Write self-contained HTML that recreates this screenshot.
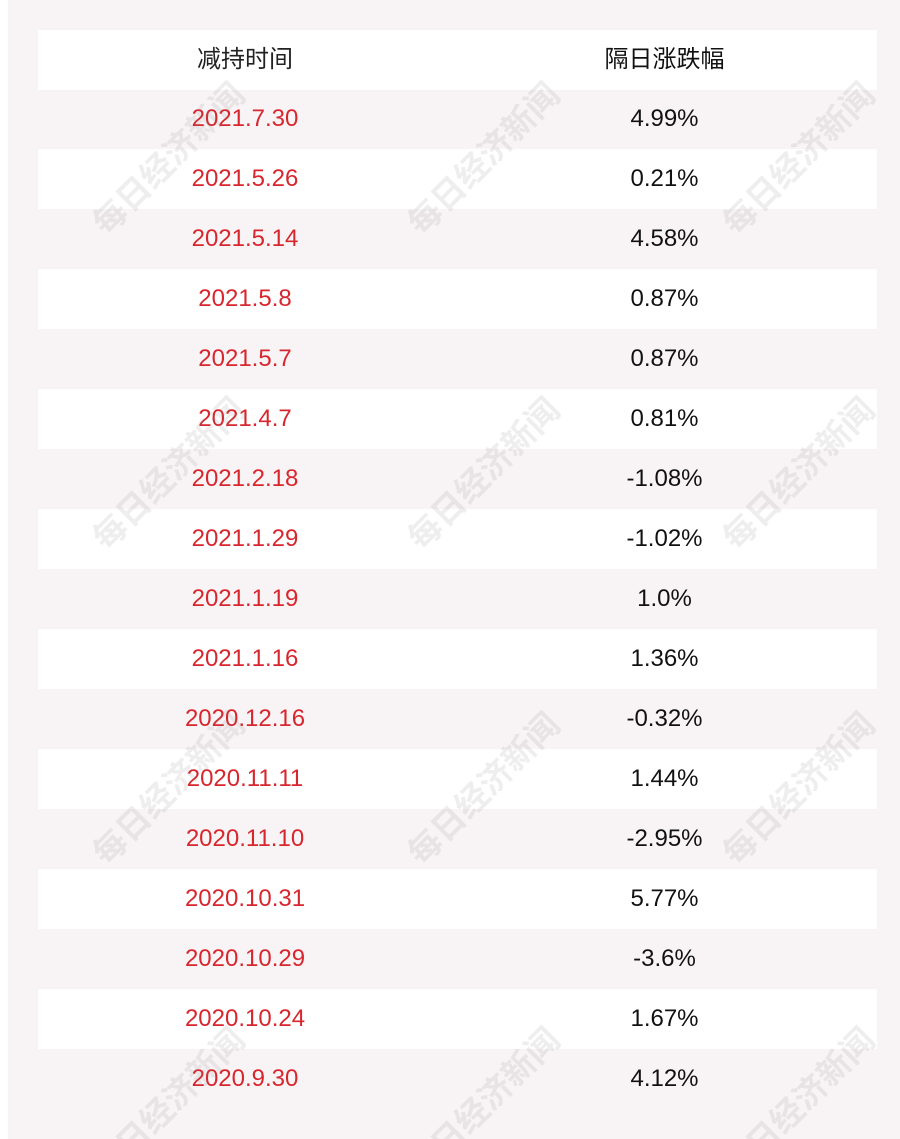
<!DOCTYPE html>
<html style="overflow:hidden;height:1139px"><head><meta charset="utf-8"><style>
html,body{overflow:hidden;}
body{margin:0;width:900px;height:1139px;background:#fff;position:relative;overflow:hidden;font-family:"Liberation Sans","Noto Sans CJK SC",sans-serif;}
#bg{position:absolute;left:8px;top:0;width:892px;height:1139px;background:#f8f4f5;}
.row{position:absolute;left:38px;width:839px;height:60px;font-size:24px;line-height:60px;}
.row.w{background:#fff;}
.c1{position:absolute;left:0;width:414px;text-align:center;color:#d8262e;}
.c2{position:absolute;left:414px;width:425px;text-align:center;color:#111;}
.h .c1{color:#222;}
.wrap{position:absolute;left:0;top:0;width:900px;height:1139px;overflow:hidden;}
.wm{position:absolute;font-size:33px;font-weight:bold;color:rgba(120,120,120,0.13);transform:rotate(-45deg);transform-origin:left top;white-space:nowrap;font-family:"Noto Sans CJK SC",sans-serif;}
</style></head><body>
<div id="bg"></div>
<div class="row w h" style="top:30px"><span class="c1">减持时间</span><span class="c2">隔日涨跌幅</span></div>
<div class="row" style="top:89px"><span class="c1">2021.7.30</span><span class="c2">4.99%</span></div>
<div class="row w" style="top:149px"><span class="c1">2021.5.26</span><span class="c2">0.21%</span></div>
<div class="row" style="top:209px"><span class="c1">2021.5.14</span><span class="c2">4.58%</span></div>
<div class="row w" style="top:269px"><span class="c1">2021.5.8</span><span class="c2">0.87%</span></div>
<div class="row" style="top:329px"><span class="c1">2021.5.7</span><span class="c2">0.87%</span></div>
<div class="row w" style="top:389px"><span class="c1">2021.4.7</span><span class="c2">0.81%</span></div>
<div class="row" style="top:449px"><span class="c1">2021.2.18</span><span class="c2">-1.08%</span></div>
<div class="row w" style="top:509px"><span class="c1">2021.1.29</span><span class="c2">-1.02%</span></div>
<div class="row" style="top:569px"><span class="c1">2021.1.19</span><span class="c2">1.0%</span></div>
<div class="row w" style="top:629px"><span class="c1">2021.1.16</span><span class="c2">1.36%</span></div>
<div class="row" style="top:689px"><span class="c1">2020.12.16</span><span class="c2">-0.32%</span></div>
<div class="row w" style="top:749px"><span class="c1">2020.11.11</span><span class="c2">1.44%</span></div>
<div class="row" style="top:809px"><span class="c1">2020.11.10</span><span class="c2">-2.95%</span></div>
<div class="row w" style="top:869px"><span class="c1">2020.10.31</span><span class="c2">5.77%</span></div>
<div class="row" style="top:929px"><span class="c1">2020.10.29</span><span class="c2">-3.6%</span></div>
<div class="row w" style="top:989px"><span class="c1">2020.10.24</span><span class="c2">1.67%</span></div>
<div class="row" style="top:1049px"><span class="c1">2020.9.30</span><span class="c2">4.12%</span></div>
<div class="wrap">
<div class="wm" style="left:80px;top:210px">每日经济新闻</div>
<div class="wm" style="left:395px;top:210px">每日经济新闻</div>
<div class="wm" style="left:710px;top:210px">每日经济新闻</div>
<div class="wm" style="left:80px;top:525px">每日经济新闻</div>
<div class="wm" style="left:395px;top:525px">每日经济新闻</div>
<div class="wm" style="left:710px;top:525px">每日经济新闻</div>
<div class="wm" style="left:80px;top:840px">每日经济新闻</div>
<div class="wm" style="left:395px;top:840px">每日经济新闻</div>
<div class="wm" style="left:710px;top:840px">每日经济新闻</div>
<div class="wm" style="left:80px;top:1155px">每日经济新闻</div>
<div class="wm" style="left:395px;top:1155px">每日经济新闻</div>
<div class="wm" style="left:710px;top:1155px">每日经济新闻</div>
</div>
</body></html>
